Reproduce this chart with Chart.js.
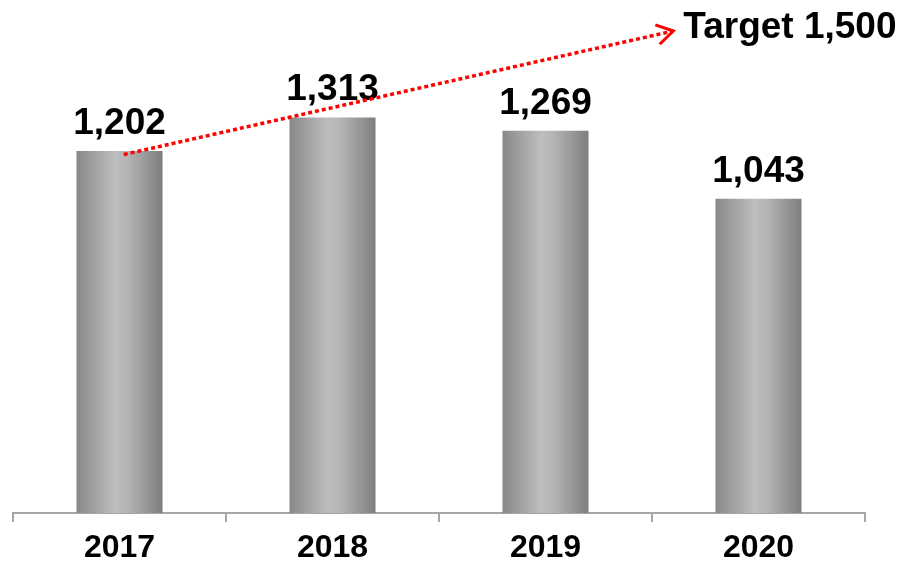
<!DOCTYPE html>
<html>
<head>
<meta charset="utf-8">
<script src="https://cdn.jsdelivr.net/npm/chart.js@4.4.1/dist/chart.umd.min.js"></script>
<style>
  html, body { margin: 0; padding: 0; background: #fff; }
  #wrap { width: 900px; height: 564px; position: relative; }
</style>
</head>
<body>
<div id="wrap"><canvas id="c"></canvas></div>
<script>
var years = ["2017", "2018", "2019", "2020"];
var values = [1202, 1313, 1269, 1043];
var targetLabel = "Target 1,500";
// arrow runs from first bar toward the target, in data units (category index, value)
var arrowFrom = [0.02, 1190];
var arrowTo = [2.6, 1600];

var barPct = 0.404;

function barGradient(context) {
  var chart = context.chart;
  if (!chart.chartArea) return "#a0a0a0";
  var xs = chart.scales.x;
  var cx = xs.getPixelForValue(context.dataIndex);
  var w = (xs.width / years.length) * barPct;
  var g = chart.ctx.createLinearGradient(cx - w / 2, 0, cx + w / 2, 0);
  g.addColorStop(0, "#888888");
  g.addColorStop(0.45, "#bebebe");
  g.addColorStop(0.6, "#b4b4b4");
  g.addColorStop(1, "#7e7e7e");
  return g;
}

var valueLabels = {
  id: "valueLabels",
  afterDatasetsDraw: function (chart) {
    var ctx = chart.ctx;
    var meta = chart.getDatasetMeta(0);
    ctx.save();
    ctx.fillStyle = "#000";
    ctx.font = "bold 37px 'Liberation Sans', Arial, sans-serif";
    ctx.textAlign = "center";
    ctx.textBaseline = "alphabetic";
    meta.data.forEach(function (bar, i) {
      ctx.fillText(values[i].toLocaleString("en-US"), bar.x, bar.y - 17);
    });
    ctx.restore();
  }
};

var targetArrow = {
  id: "targetArrow",
  afterDraw: function (chart) {
    var ctx = chart.ctx;
    var xs = chart.scales.x, ys = chart.scales.y;
    var x0 = xs.getPixelForValue(arrowFrom[0]), y0 = ys.getPixelForValue(arrowFrom[1]);
    var x1 = xs.getPixelForValue(arrowTo[0]), y1 = ys.getPixelForValue(arrowTo[1]);
    var ang = Math.atan2(y1 - y0, x1 - x0);
    ctx.save();
    ctx.strokeStyle = "#ff0000";
    ctx.lineWidth = 3.5;
    ctx.setLineDash([4, 3]);
    ctx.beginPath();
    ctx.moveTo(x0, y0);
    ctx.lineTo(x1, y1);
    ctx.stroke();
    // open arrow head
    ctx.setLineDash([]);
    ctx.lineWidth = 3;
    ctx.beginPath();
    var len = 19;
    ctx.moveTo(x1 - len * Math.cos(ang - 0.55), y1 - len * Math.sin(ang - 0.55));
    ctx.lineTo(x1, y1);
    ctx.lineTo(x1 - len * Math.cos(ang + 0.55), y1 - len * Math.sin(ang + 0.55));
    ctx.stroke();
    ctx.fillStyle = "#000";
    ctx.font = "bold 37px 'Liberation Sans', Arial, sans-serif";
    ctx.textAlign = "left";
    ctx.textBaseline = "middle";
    ctx.fillText(targetLabel, x1 + 10, y1 - 3);
    ctx.restore();
  }
};

new Chart(document.getElementById("c"), {
  type: "bar",
  data: {
    labels: years,
    datasets: [{
      data: values,
      backgroundColor: barGradient,
      borderWidth: 0,
      barPercentage: barPct,
      categoryPercentage: 1
    }]
  },
  options: {
    responsive: true,
    maintainAspectRatio: false,
    animation: false,
    events: [],
    layout: { padding: { top: 31, left: 13, right: 35, bottom: -10 } },
    plugins: { legend: { display: false }, tooltip: { enabled: false } },
    scales: {
      x: {
        grid: {
          offset: true,
          drawOnChartArea: false,
          drawTicks: true,
          tickLength: 9,
          color: "#a6a6a6",
          lineWidth: 2
        },
        border: { display: true, color: "#a6a6a6", width: 2 },
        ticks: {
          color: "#000",
          padding: 10,
          font: { family: "'Liberation Sans', Arial, sans-serif", size: 32, weight: "bold", lineHeight: 1 }
        }
      },
      y: { display: false, min: 0, max: 1600 }
    }
  },
  plugins: [valueLabels, targetArrow]
});
</script>
</body>
</html>
